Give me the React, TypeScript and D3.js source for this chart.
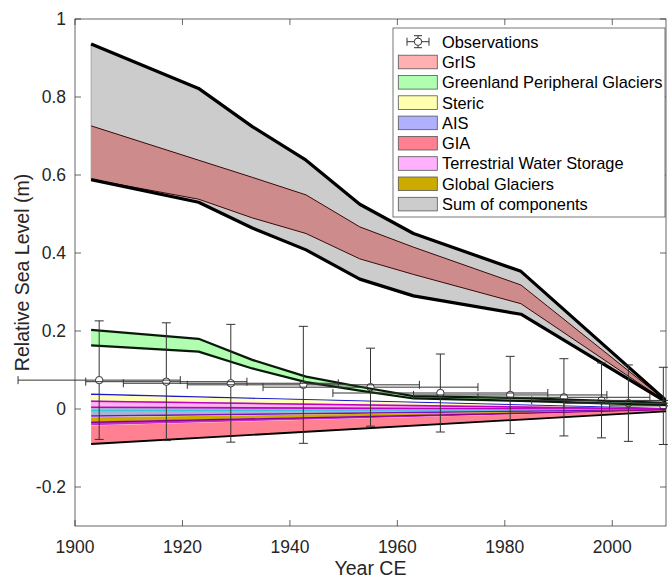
import React, { useEffect, useRef } from 'react'
import * as d3 from 'd3'

const width = 668
const height = 578
const plot = { left: 75, right: 666, top: 19, bottom: 526 }

// knots of the large bands
const knotYears = [1903, 1923, 1933, 1943, 1953, 1963, 1983, 2010]
const sumUpper = [0.936, 0.822, 0.724, 0.638, 0.525, 0.45, 0.353, 0.022]
const sumLower = [0.588, 0.53, 0.464, 0.408, 0.333, 0.29, 0.243, 0.018]
const grisUpper = [0.726, 0.638, 0.594, 0.549, 0.467, 0.415, 0.318, 0.021]
const grisLower = [0.589, 0.538, 0.49, 0.45, 0.385, 0.345, 0.27, 0.019]
const gpgUpper = [0.203, 0.18, 0.126, 0.083, 0.057, 0.033, 0.028, 0.016]
const gpgLower = [0.163, 0.147, 0.104, 0.069, 0.047, 0.027, 0.021, 0.01]

// thin components, linear from 1903 to 2010
const stripYears = [1903, 2010]
const aisUpper = [0.0377, 0.001]
const aisLower = [-0.018, -0.0021]
const stericUpper = [0.036, 0.0009]
const stericLower = [0.022, 0.0001]
const twsUpper = [0.0197, 0.0]
const twsLower = [0.0043, -0.0009]
const aisMid = [-0.0043, -0.0013]
const ggUpper = [-0.0213, -0.0023]
const ggLower = [-0.0325, -0.0029]
const tws2Upper = [-0.034, -0.003]
const tws2Lower = [-0.0418, -0.0034]
const giaUpper = [-0.0426, -0.0034]
const giaLower = [-0.0897, -0.006]

// observations
const obsYear = [1904.5, 1917, 1929, 1942.5, 1955, 1968, 1981, 1991, 1998, 2003, 2009.5]
const obsValue = [0.074, 0.07, 0.066, 0.062, 0.056, 0.041, 0.036, 0.03, 0.022, 0.015, 0.008]
const obsErr = [0.152, 0.151, 0.151, 0.15, 0.1, 0.1, 0.099, 0.099, 0.096, 0.098, 0.099]
const obsYearErr = [15.1, 15, 20, 21.6, 20, 20, 18, 16, 13, 12, 10]

const legendLabels = [
  'Observations',
  'GrIS',
  'Greenland Peripheral Glaciers',
  'Steric',
  'AIS',
  'GIA',
  'Terrestrial Water Storage',
  'Global Glaciers',
  'Sum of components',
]
const legendColors = ['', '#ffb0b0', '#b0ffb0', '#ffffb0', '#b0b0ff', '#ff8090', '#ffb0ff', '#ccaa00', '#cccccc']

const xTicks = [1900, 1920, 1940, 1960, 1980, 2000]
const yTicks = [-0.2, 0, 0.2, 0.4, 0.6, 0.8, 1]

const font = '"Liberation Sans", Arial, Helvetica, sans-serif'
const axisColor = '#262626'

export default function App() {
  const ref = useRef<SVGSVGElement>(null)

  useEffect(() => {
    const svg = d3.select(ref.current)
    svg.selectAll('*').remove()

    const x = d3.scaleLinear().domain([1900, 2010]).range([plot.left, plot.right])
    const y = d3.scaleLinear().domain([-0.3, 1]).range([plot.bottom, plot.top])

    svg.append('defs').append('clipPath').attr('id', 'plotclip')
      .append('rect')
      .attr('x', plot.left).attr('y', plot.top)
      .attr('width', plot.right - plot.left).attr('height', plot.bottom - plot.top)

    const g = svg.append('g').attr('clip-path', 'url(#plotclip)')

    const band = (years: number[], upper: number[], lower: number[], fill: string, edge: string, edgeW: number) => {
      const area = d3.area<number>()
        .x(d => x(d))
        .y0((_, i) => y(lower[i]))
        .y1((_, i) => y(upper[i]))
      g.append('path').datum(years).attr('d', area)
        .attr('fill', fill).attr('stroke', edge).attr('stroke-width', edgeW)
    }
    const line = (years: number[], vals: number[], color: string, w: number) => {
      const l = d3.line<number>().x(d => x(d)).y((_, i) => y(vals[i]))
      g.append('path').datum(years).attr('d', l)
        .attr('fill', 'none').attr('stroke', color).attr('stroke-width', w)
        .attr('stroke-linejoin', 'round')
    }

    // sum of components and GrIS
    band(knotYears, sumUpper, sumLower, '#cccccc', '#9a9a9a', 0.8)
    band(knotYears, grisUpper, grisLower, '#cd8b8b', 'none', 0)
    line(knotYears, grisUpper, '#3a0808', 1)
    line(knotYears, grisLower, '#3a0808', 1)
    line(knotYears, sumUpper, '#000', 3.2)
    line(knotYears, sumLower, '#000', 3.2)

    // greenland peripheral glaciers
    band(knotYears, gpgUpper, gpgLower, '#b0ffb0', 'none', 0)
    line(knotYears, gpgUpper, '#0a1a0a', 2.2)
    line(knotYears, gpgLower, '#0a1a0a', 2.2)

    // thin components
    band(stripYears, aisUpper, aisLower, '#aab3d6', 'none', 0)
    line(stripYears, aisUpper, '#1a1acc', 1.4)
    band(stripYears, stericUpper, stericLower, '#ffffb8', 'none', 0)
    band(stripYears, twsUpper, twsLower, '#ffb4f0', 'none', 0)
    line(stripYears, twsUpper, '#c000c0', 1.6)
    line(stripYears, twsLower, '#c000c0', 1.6)
    line(stripYears, aisMid, '#30c8d8', 1.2)
    line(stripYears, aisLower, '#7a10c0', 1.4)
    band(stripYears, ggUpper, ggLower, '#ccaa00', 'none', 0)
    band(stripYears, tws2Upper, tws2Lower, '#cc2ccc', 'none', 0)
    line(stripYears, tws2Upper, '#8a008a', 1.4)
    band(stripYears, giaUpper, giaLower, '#ff8090', 'none', 0)
    line(stripYears, giaLower, '#000', 1.8)

    // observations with error bars
    const obs = svg.append('g').attr('stroke', '#333').attr('stroke-width', 1).attr('fill', 'none')
    obsYear.forEach((yr, i) => {
      const cx = x(yr)
      const cy = y(obsValue[i])
      const y0 = y(obsValue[i] - obsErr[i])
      const y1 = y(obsValue[i] + obsErr[i])
      const x0 = x(yr - obsYearErr[i])
      const x1 = x(yr + obsYearErr[i])
      obs.append('line').attr('x1', cx).attr('x2', cx).attr('y1', y0).attr('y2', cy + 3.7)
      obs.append('line').attr('x1', cx).attr('x2', cx).attr('y1', cy - 3.7).attr('y2', y1)
      obs.append('line').attr('x1', cx - 4.5).attr('x2', cx + 4.5).attr('y1', y0).attr('y2', y0)
      obs.append('line').attr('x1', cx - 4.5).attr('x2', cx + 4.5).attr('y1', y1).attr('y2', y1)
      obs.append('line').attr('x1', x0).attr('x2', cx - 3.7).attr('y1', cy).attr('y2', cy)
      obs.append('line').attr('x1', cx + 3.7).attr('x2', x1).attr('y1', cy).attr('y2', cy)
      obs.append('line').attr('x1', x0).attr('x2', x0).attr('y1', cy - 4).attr('y2', cy + 4)
      obs.append('line').attr('x1', x1).attr('x2', x1).attr('y1', cy - 4).attr('y2', cy + 4)
      obs.append('circle').attr('cx', cx).attr('cy', cy).attr('r', 3.7)
    })

    // axes box and ticks
    const ax = svg.append('g')
    ax.append('rect')
      .attr('x', plot.left).attr('y', plot.top)
      .attr('width', plot.right - plot.left).attr('height', plot.bottom - plot.top)
      .attr('fill', 'none').attr('stroke', axisColor).attr('stroke-width', 0.7)
    const tl = 6
    xTicks.forEach(t => {
      ax.append('line').attr('x1', x(t)).attr('x2', x(t)).attr('y1', plot.bottom).attr('y2', plot.bottom - tl)
        .attr('stroke', axisColor).attr('stroke-width', 0.7)
      ax.append('line').attr('x1', x(t)).attr('x2', x(t)).attr('y1', plot.top).attr('y2', plot.top + tl)
        .attr('stroke', axisColor).attr('stroke-width', 0.7)
      ax.append('text').attr('x', x(t)).attr('y', plot.bottom + 27)
        .attr('text-anchor', 'middle').attr('font-family', font).attr('font-size', 17.5)
        .attr('fill', axisColor).text(t)
    })
    yTicks.forEach(t => {
      ax.append('line').attr('x1', plot.left).attr('x2', plot.left + tl).attr('y1', y(t)).attr('y2', y(t))
        .attr('stroke', axisColor).attr('stroke-width', 0.7)
      ax.append('line').attr('x1', plot.right).attr('x2', plot.right - tl).attr('y1', y(t)).attr('y2', y(t))
        .attr('stroke', axisColor).attr('stroke-width', 0.7)
      ax.append('text').attr('x', plot.left - 9).attr('y', y(t)).attr('dy', '0.36em')
        .attr('text-anchor', 'end').attr('font-family', font).attr('font-size', 17.5)
        .attr('fill', axisColor).text(t === 0 ? '0' : String(+t.toFixed(1)))
    })
    ax.append('text')
      .attr('x', (plot.left + plot.right) / 2).attr('y', 575)
      .attr('text-anchor', 'middle').attr('font-family', font).attr('font-size', 19.5)
      .attr('fill', axisColor).text('Year CE')
    ax.append('text')
      .attr('transform', `translate(29, ${(plot.top + plot.bottom) / 2}) rotate(-90)`)
      .attr('text-anchor', 'middle').attr('font-family', font).attr('font-size', 19.5)
      .attr('fill', axisColor).text('Relative Sea Level (m)')

    // legend
    const lg = svg.append('g')
    const lx = 393
    const ly = 28
    const lw = 272
    const lh = 189
    lg.append('rect').attr('x', lx).attr('y', ly).attr('width', lw).attr('height', lh)
      .attr('fill', '#fff').attr('stroke', '#555').attr('stroke-width', 0.8)
    legendLabels.forEach((label, i) => {
      const cy = 41.7 + i * 20.3
      if (i === 0) {
        const s = lg.append('g').attr('stroke', '#333').attr('stroke-width', 1).attr('fill', 'none')
        s.append('line').attr('x1', 407).attr('x2', 429).attr('y1', cy).attr('y2', cy)
        s.append('line').attr('x1', 407).attr('x2', 407).attr('y1', cy - 4).attr('y2', cy + 4)
        s.append('line').attr('x1', 429).attr('x2', 429).attr('y1', cy - 4).attr('y2', cy + 4)
        s.append('line').attr('x1', 418).attr('x2', 418).attr('y1', cy - 6).attr('y2', cy + 6)
        s.append('line').attr('x1', 414).attr('x2', 422).attr('y1', cy - 6).attr('y2', cy - 6)
        s.append('line').attr('x1', 414).attr('x2', 422).attr('y1', cy + 6).attr('y2', cy + 6)
        s.append('circle').attr('cx', 418).attr('cy', cy).attr('r', 3.7).attr('fill', '#fff')
      } else {
        lg.append('rect').attr('x', 398.3).attr('y', cy - 6.8).attr('width', 39).attr('height', 13.6)
          .attr('fill', legendColors[i]).attr('stroke', '#555').attr('stroke-width', 0.8)
      }
      lg.append('text').attr('x', 442).attr('y', cy).attr('dy', '0.36em')
        .attr('font-family', font).attr('font-size', 16.4).attr('fill', '#000').text(label)
    })
  }, [])

  return (
    <svg
      ref={ref}
      width={width}
      height={height}
      style={{ position: 'absolute', left: 0, top: 0, background: '#fff', display: 'block' }}
    />
  )
}
